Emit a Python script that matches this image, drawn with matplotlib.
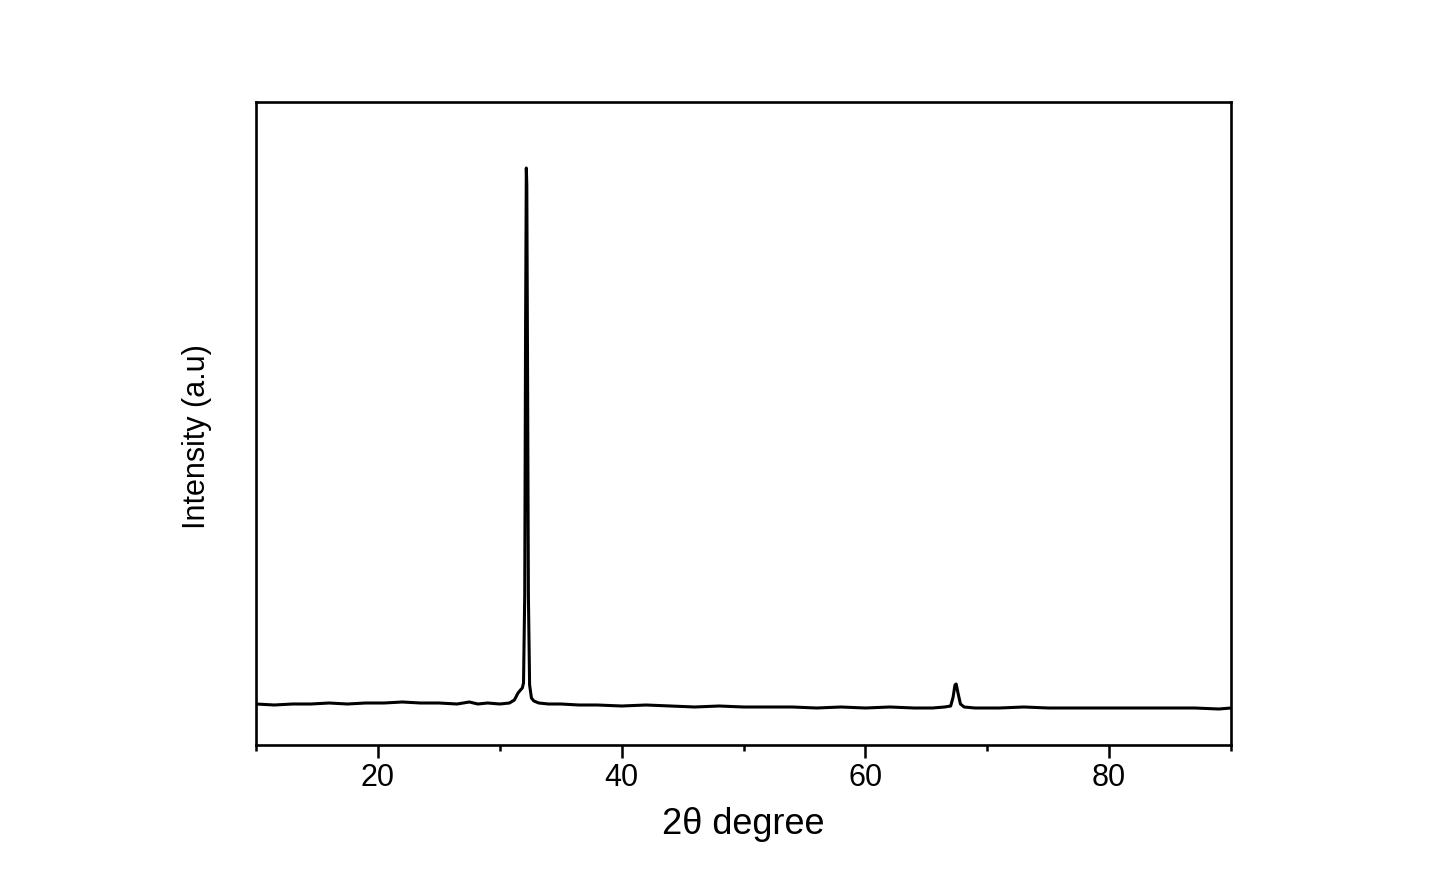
import matplotlib
matplotlib.use("Agg")
import matplotlib.pyplot as plt
from matplotlib.ticker import MultipleLocator

# XRD pattern (2theta in degrees, intensity in arbitrary units)
two_theta = [10, 11.5, 13, 14.5, 16, 17.5, 19, 20.5, 22, 23.5, 25, 26.5, 27.5, 28.2,
             29, 30, 30.8, 31.2, 31.5, 31.7, 31.85, 31.95, 32.05, 32.12, 32.18, 32.22,
             32.28, 32.35, 32.45, 32.6, 32.8, 33.2, 34, 35, 36.5, 38, 40, 42, 44, 46,
             48, 50, 52, 54, 56, 58, 60, 62, 64, 65.5, 66.5, 67.0, 67.2, 67.35, 67.45,
             67.6, 67.8, 68.1, 69, 71, 73, 75, 77, 79, 81, 83, 85, 87, 89, 90]
intensity = [41, 40, 41, 41, 42, 41, 42, 42, 43, 42, 42, 41, 43, 41,
             42, 41, 42, 45, 52, 55, 57, 62, 150, 420, 577, 560,
             380, 150, 60, 47, 44, 42, 41, 41, 40, 40, 39, 40, 39, 38,
             39, 38, 38, 38, 37, 38, 37, 38, 37, 37, 38, 39, 48, 60, 61,
             52, 41, 38, 37, 37, 38, 37, 37, 37, 37, 37, 37, 37, 36, 37]

x_ticks = [20, 40, 60, 80]

plt.rcParams['font.family'] = ['Liberation Sans', 'DejaVu Sans']

fig = plt.figure(figsize=(14.3, 8.92), dpi=100)
ax = fig.add_axes([256/1430, 1 - 745/892, (1231-256)/1430, (745-102)/892])

ax.plot(two_theta, intensity, color='black', lw=2.2)

ax.set_xlim(10, 90)
ax.set_ylim(0, 643)
ax.set_xticks(x_ticks)
ax.xaxis.set_minor_locator(MultipleLocator(10))
ax.set_yticks([])
ax.tick_params(axis='x', which='major', direction='out', length=9, width=1.8,
               labelsize=22, pad=4)
ax.tick_params(axis='x', which='minor', direction='out', length=4.5, width=1.8)
for s in ax.spines.values():
    s.set_linewidth(1.9)

ax.set_xlabel('2θ degree', fontsize=26, labelpad=10)
ax.set_ylabel('Intensity (a.u)', fontsize=22)
ax.yaxis.set_label_coords(-0.045, 0.48)

fig.savefig('out.png', dpi=100, facecolor='white')
